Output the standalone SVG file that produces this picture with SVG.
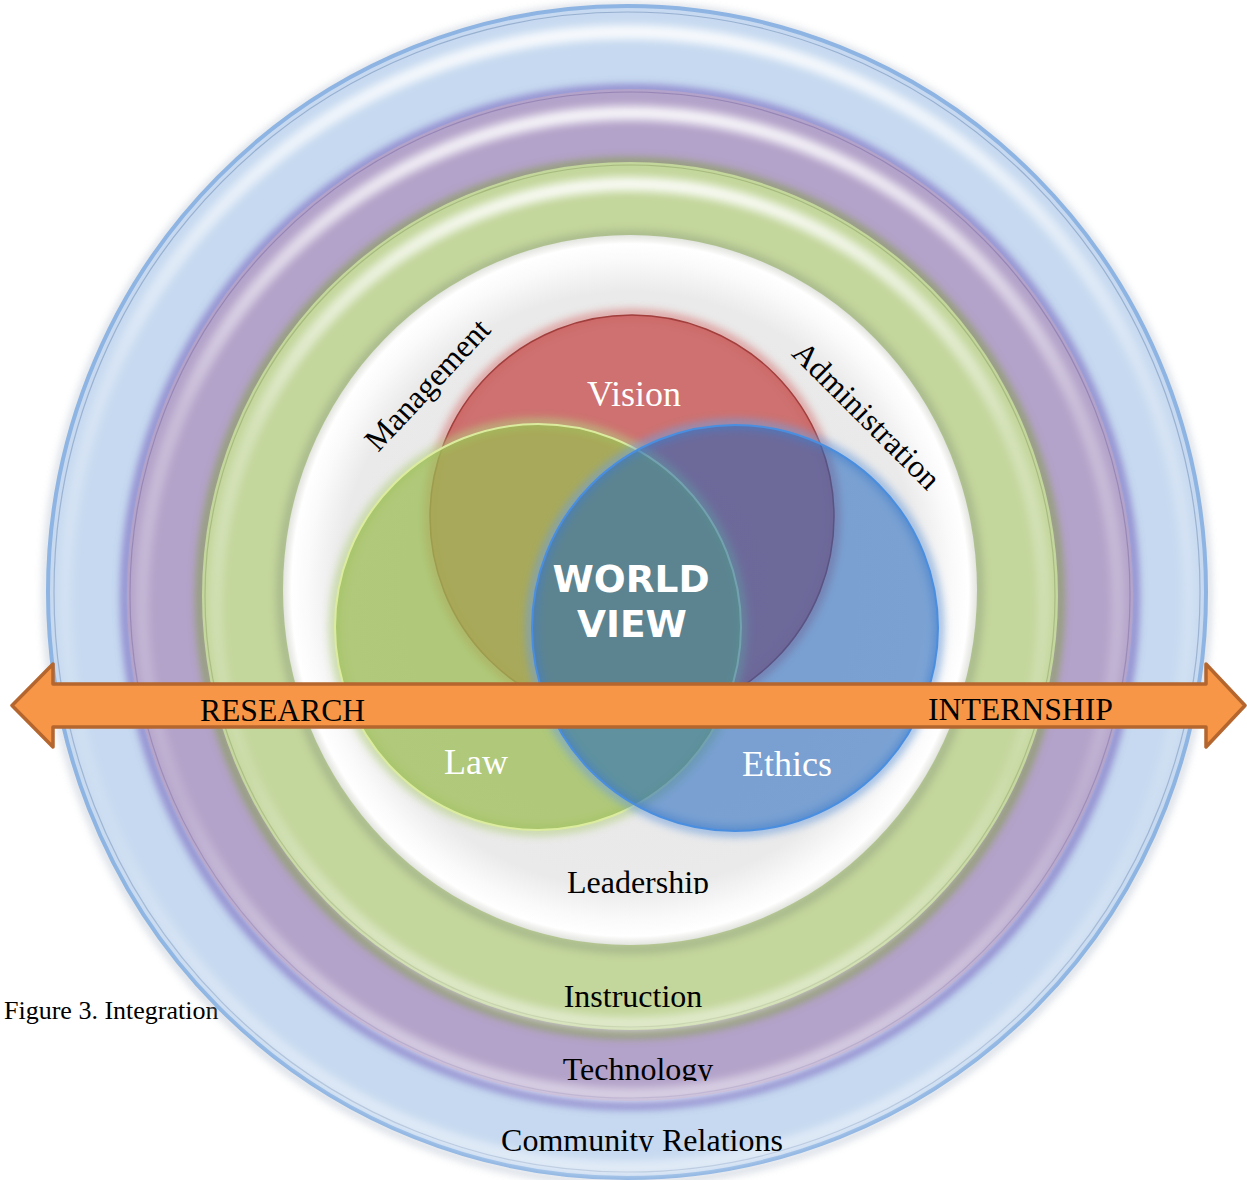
<svg xmlns="http://www.w3.org/2000/svg" width="1247" height="1180" viewBox="0 0 1247 1180">
<defs>
<style>
.serif{font-family:"Liberation Serif","Times New Roman",serif}
.lbl{font-size:32px;fill:#000000}
.vl{font-size:36px;fill:#ffffff}
.wv{font-family:"DejaVu Sans",Verdana,sans-serif;font-weight:bold;font-size:37.5px;fill:#ffffff;text-anchor:middle}
.mid{text-anchor:middle}
.soft{fill:none;filter:url(#b4)}
.hl{fill:none;stroke:url(#hlg);filter:url(#b4)}
.thin{fill:none;stroke-width:1.2}
.arrow{fill:#f79646;stroke:#b4662e;stroke-width:3.5;stroke-linejoin:round}
</style>
<filter id="b2" x="-5%" y="-5%" width="110%" height="110%"><feGaussianBlur stdDeviation="2"/></filter>
<filter id="b4" x="-5%" y="-5%" width="110%" height="110%"><feGaussianBlur stdDeviation="4"/></filter>
<linearGradient id="hlg" x1="0" y1="0" x2="0" y2="1">
<stop offset="0" stop-color="#ffffff" stop-opacity="0.9"/>
<stop offset="0.3" stop-color="#ffffff" stop-opacity="0.3"/>
<stop offset="0.7" stop-color="#ffffff" stop-opacity="0.15"/>
<stop offset="1" stop-color="#ffffff" stop-opacity="0.5"/>
</linearGradient>
<radialGradient id="wg" cx="0.5" cy="0.5" r="0.5">
<stop offset="0" stop-color="#e6e6e6"/>
<stop offset="0.84" stop-color="#eaeaea"/>
<stop offset="0.93" stop-color="#fafafa"/>
<stop offset="0.975" stop-color="#ffffff"/>
<stop offset="1" stop-color="#e2e4de"/>
</radialGradient>
<clipPath id="cLead"><rect x="0" y="0" width="1247" height="894"/></clipPath>
<clipPath id="cTech"><rect x="0" y="0" width="1247" height="1081"/></clipPath>
<clipPath id="cComm"><rect x="0" y="0" width="1247" height="1152"/></clipPath>
</defs>

<rect x="0" y="0" width="1247" height="1180" fill="#ffffff"/>

<g id="caption">
<text class="serif" x="4" y="1019" font-size="26" fill="#000000">Figure 3. Integration</text>
</g>

<g id="ring-community">
<ellipse cx="627" cy="594" rx="581" ry="588" class="soft" stroke="#9aa8bc" stroke-width="5" opacity="0.6"/>
<ellipse cx="627" cy="592" rx="579" ry="586" fill="#c6d9f0" stroke="#8db4e2" stroke-width="4"/>
<ellipse cx="627" cy="592" rx="573" ry="580" class="thin" stroke="#5f7fa8" opacity="0.45"/>
<ellipse cx="627" cy="600" rx="562" ry="568" class="hl" stroke-width="14"/>
<text class="serif lbl mid" x="642" y="1151" clip-path="url(#cComm)">Community Relations</text>
</g>

<g id="ring-technology">
<ellipse cx="630" cy="597" rx="505" ry="508" class="soft" stroke="#7d6fc2" stroke-width="7"/>
<ellipse cx="630" cy="595" rx="503" ry="506" fill="#b3a2c9"/>
<ellipse cx="630" cy="595" rx="500" ry="503" class="thin" stroke="#6b5c9c" opacity="0.4"/>
<ellipse cx="630" cy="604" rx="488" ry="491" class="hl" stroke-width="14"/>
<text class="serif lbl mid" x="638" y="1080" clip-path="url(#cTech)">Technology</text>
</g>

<g id="ring-instruction">
<ellipse cx="630" cy="598" rx="430" ry="436" class="soft" stroke="#8a9d5c" stroke-width="7"/>
<ellipse cx="630" cy="596" rx="428" ry="434" fill="#c3d69b"/>
<ellipse cx="630" cy="596" rx="425" ry="431" class="thin" stroke="#7d8f52" opacity="0.4"/>
<ellipse cx="630" cy="604" rx="414" ry="420" class="hl" stroke-width="14"/>
<text class="serif lbl mid" x="633" y="1007">Instruction</text>
</g>

<g id="ring-leadership">
<ellipse cx="630" cy="592" rx="349" ry="357" class="soft" stroke="#98a683" stroke-width="7" opacity="0.8"/>
<ellipse cx="630" cy="590" rx="347" ry="355" fill="url(#wg)"/>
<text class="serif lbl mid" x="638" y="893" clip-path="url(#cLead)">Leadership</text>
</g>

<g id="node-vision">
<circle cx="632" cy="517" r="203" fill="none" stroke="#d98886" stroke-width="9" filter="url(#b4)" opacity="0.8"/>
<circle cx="632" cy="517" r="202" fill="#c9605e" fill-opacity="0.88" stroke="#a13f3d" stroke-width="1.5"/>
<text class="serif vl mid" x="634" y="406">Vision</text>
</g>

<g id="node-law">
<circle cx="538" cy="627" r="204" fill="none" stroke="#b4cf80" stroke-width="9" filter="url(#b4)" opacity="0.7"/>
<circle cx="538" cy="627" r="203" fill="#9bbd52" fill-opacity="0.74" stroke="#dcec9f" stroke-width="2"/>
<text class="serif vl mid" x="476" y="774">Law</text>
</g>

<g id="node-ethics">
<circle cx="735" cy="628" r="204" fill="none" stroke="#6f9fdc" stroke-width="9" filter="url(#b4)" opacity="0.7"/>
<circle cx="735" cy="628" r="203" fill="#1d65bd" fill-opacity="0.55" stroke="#4a8ee0" stroke-width="2"/>
<text class="serif vl mid" x="787" y="776">Ethics</text>
</g>

<g id="node-worldview">
<text class="wv" x="631" y="592">WORLD</text>
<text class="wv" x="632" y="637">VIEW</text>
</g>

<g id="label-management">
<text class="serif lbl mid" transform="translate(435,392) rotate(-47)" x="0" y="0">Management</text>
</g>

<g id="label-administration">
<text class="serif lbl mid" transform="translate(859,423) rotate(45)" x="0" y="0">Administration</text>
</g>

<g id="connectors">
<polygon class="arrow" points="12,705.5 53,664 53,684 1206,684 1206,664 1245,705.5 1206,747 1206,727 53,727 53,747"/>
<text class="serif" x="200" y="721" font-size="31.6" fill="#000000">RESEARCH</text>
<text class="serif" x="928" y="720" font-size="31.7" fill="#000000">INTERNSHIP</text>
</g>
</svg>
